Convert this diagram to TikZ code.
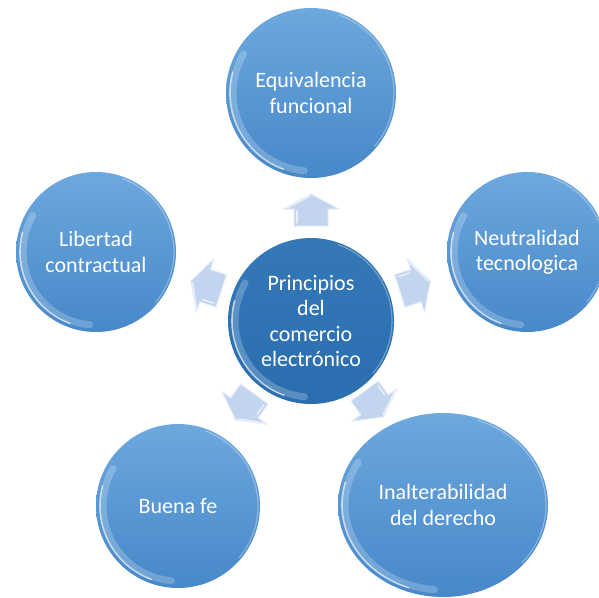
\documentclass[tikz,border=0pt]{standalone}
\usepackage{fontspec}
\setmainfont{Carlito}
\usetikzlibrary{shapes.geometric}
\definecolor{bubtop}{HTML}{6DA8DE}
\definecolor{bubbot}{HTML}{4788C9}
\definecolor{ctrtop}{HTML}{3478B8}
\definecolor{ctrbot}{HTML}{2B6EAF}
\definecolor{arrfill}{HTML}{C3D5EE}
\definecolor{arredge}{HTML}{E4EDF9}
\tikzset{
  bubble/.style={circle, top color=bubtop, bottom color=bubbot, text=white,
    align=center, font=\fontsize{22}{25.5}\selectfont, inner sep=0pt},
  hub/.style={bubble, top color=ctrtop, bottom color=ctrbot},
  softglint/.style={white, opacity=.22, line width=7pt, line cap=round},
  glint/.style={white, opacity=.6, line width=1.6pt, line cap=round},
  rim/.style={white, opacity=.3, line width=1.2pt, line cap=round},
  blockarrow/.style={fill=arrfill, draw=arredge, line width=1pt, line join=round},
  bevel/.style={white, opacity=.65, line width=1.3pt, line cap=round}
}
\newcommand\glossy[3]{%
  \draw[softglint] ([shift={(150:#2pt-7pt and #3pt-7pt)}]#1.center)
    arc[start angle=150, end angle=265, x radius=#2pt-7pt, y radius=#3pt-7pt];
  \draw[glint] ([shift={(165:#2pt-4pt and #3pt-4pt)}]#1.center)
    arc[start angle=165, end angle=250, x radius=#2pt-4pt, y radius=#3pt-4pt];
  \draw[rim] ([shift={(-40:#2pt-2pt and #3pt-2pt)}]#1.center)
    arc[start angle=-40, end angle=70, x radius=#2pt-2pt, y radius=#3pt-2pt];
}
\newcommand\blockarrow[3]{%
  \begin{scope}[shift={(#1,#2)}, rotate=#3]
    \draw[blockarrow] (0,-16) -- (28,-1) -- (17,-1) -- (17,16) -- (-17,16)
      -- (-17,-1) -- (-28,-1) -- cycle;
    \draw[bevel] (-14,1) -- (-14,13);
    \draw[bevel] (-24,-2) -- (-1,-14);
  \end{scope}
}
\begin{document}
\begin{tikzpicture}[x=1pt, y=-1pt]
  \useasboundingbox (0,0) rectangle (599,597);
  \clip (0,0) rectangle (599,597);

  \node[bubble, minimum size=170pt] (equi) at (311,93) {Equivalencia\\funcional};
  \node[bubble, minimum size=160pt] (lib) at (96,252) {Libertad\\contractual};
  \node[bubble, minimum size=160pt] (neut) at (527,252) {Neutralidad\\tecnologica};
  \node[bubble, minimum size=164pt] (buena) at (178,506) {Buena fe};
  \node[bubble, ellipse, minimum width=210pt, minimum height=184pt] (inal) at (443,505)
    {Inalterabilidad\\del derecho};
  \node[hub, minimum size=166pt] (hub) at (311,321)
    {Principios\\del\\comercio\\electrónico};

  \glossy{equi}{85}{85}
  \glossy{lib}{80}{80}
  \glossy{neut}{80}{80}
  \glossy{buena}{82}{82}
  \glossy{inal}{105}{92}
  \glossy{hub}{83}{83}

  \blockarrow{311}{210}{0}
  \blockarrow{415}{286}{-72}
  \blockarrow{206}{286}{72}
  \blockarrow{245}{407}{144}
  \blockarrow{374}{404}{-144}
\end{tikzpicture}
\end{document}
